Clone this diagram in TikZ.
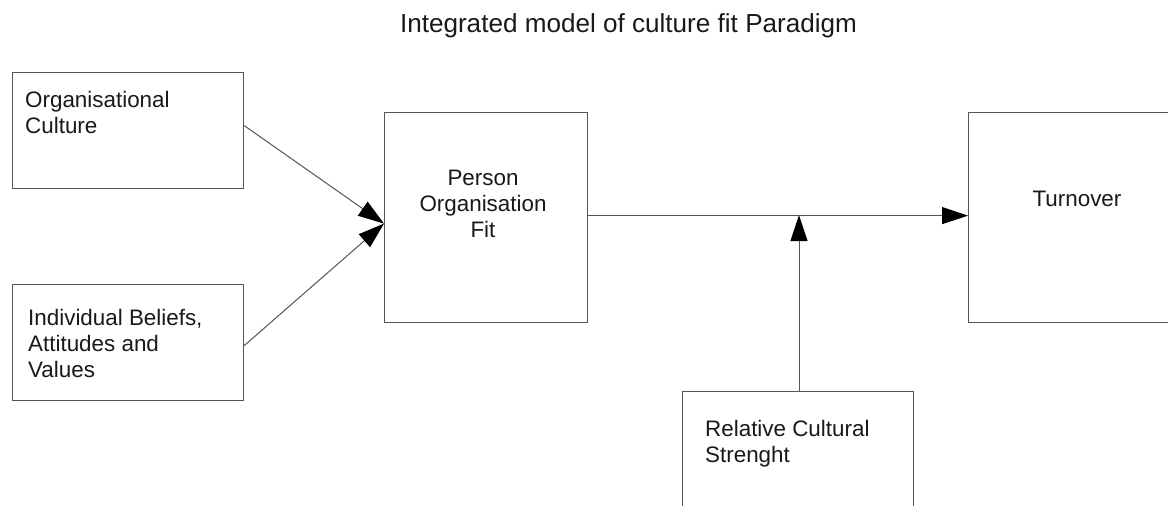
\documentclass[tikz,border=0pt]{standalone}
\usepackage{fontspec}
\setmainfont{Liberation Sans}
\usetikzlibrary{arrows.meta}
\definecolor{edgegray}{HTML}{555555}
\begin{document}
\begin{tikzpicture}[x=1pt,y=-1pt,
  box/.style={draw=edgegray, line width=1.2pt, fill=white, inner sep=0pt, anchor=north west},
  txt/.style={font=\fontsize{22.4}{26}\selectfont, inner sep=0pt, text=black!90, align=left},
  ctxt/.style={font=\fontsize{22.4}{26}\selectfont, inner sep=0pt, text=black!90, align=center},
  arr/.style={draw=edgegray, line width=1pt, -{Triangle[length=26pt,width=17pt,color=black]}}]
\clip (0,0) rectangle (1168,506);
\fill[white] (0,0) rectangle (1168,506);

\node[font=\fontsize{26.1}{30}\selectfont, inner sep=0pt, anchor=base, text=black!90] (title) at (628.5,32) {Integrated model of culture fit Paradigm};

\node[box, minimum width=231pt, minimum height=116pt] (oc) at (12,72) {};
\node[box, minimum width=231pt, minimum height=116pt] (ib) at (12,284) {};
\node[box, minimum width=203pt, minimum height=210pt] (pof) at (384,112) {};
\node[box, minimum width=199.5pt, minimum height=210pt] (turn) at (968,112) {};
\node[box, minimum width=231pt, minimum height=140pt] (rel) at (682,391) {};

\node[txt, anchor=base west] (octxt) at (25,133) {Organisational\\Culture};
\node[txt, anchor=base west] (ibtxt) at (28,377) {Individual Beliefs,\\Attitudes and\\Values};
\node[ctxt, anchor=base] (poftxt) at (483,237) {Person\\Organisation\\Fit};
\node[ctxt, anchor=base] (turntxt) at (1077,206) {Turnover};
\node[txt, anchor=base west] (reltxt) at (705,462) {Relative Cultural\\Strenght};

\coordinate (join) at (799,215);
\draw[arr] ([yshift=5pt]oc.east) -- ([yshift=-6pt]pof.west);
\draw[arr] ([yshift=-3pt]ib.east) -- ([yshift=-6pt]pof.west);
\draw[arr] ([yshift=2pt]pof.east) -- ([yshift=2pt]turn.west);
\draw[arr] (rel.north -| join) -- (join);
\end{tikzpicture}
\end{document}
